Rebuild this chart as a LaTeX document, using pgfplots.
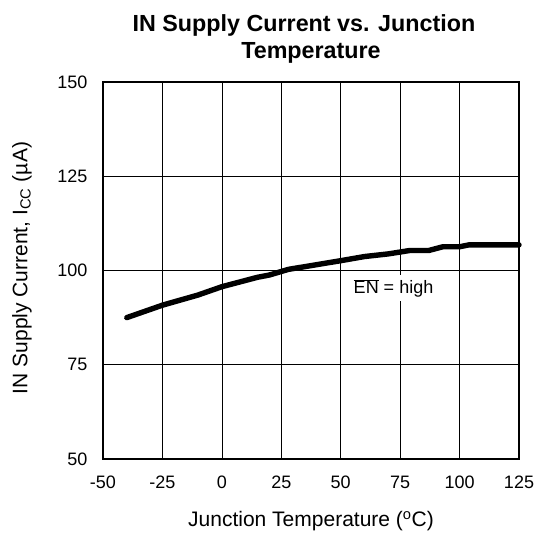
\documentclass[border=0pt]{standalone}
\usepackage{fontspec}
\setmainfont{Liberation Sans}
\usepackage{pgfplots}
\pgfplotsset{compat=1.18}
\begin{document}
\begin{tikzpicture}[x=1pt,y=1pt]
\path[use as bounding box] (0,0) rectangle (534,534);
\begin{axis}[
  at={(103pt,75pt)}, anchor=south west,
  width=416pt, height=377pt, scale only axis,
  xmin=-50, xmax=125, ymin=50, ymax=150,
  xtick={-50,-25,...,125}, ytick={50,75,...,150},
  grid=major, major grid style={black, line width=0.6pt},
  axis line style={black, line width=1.4pt},
  major tick length=0pt,
  /pgf/number format/assume math mode=true,
  ticklabel style={font=\fontsize{18}{20}\selectfont},
  xticklabel style={yshift=-13pt, text height=13pt, text depth=0pt},
  yticklabel style={xshift=-12pt},
  clip=false,
]
\addplot[black, line width=5.4pt, line join=round, line cap=round] coordinates {
(-40,87.5) (-25,90.8) (-10,93.5) (0,95.7) (15,98.2) (20,98.8) (28,100.3)
(50,102.6) (60,103.7) (70,104.4) (79,105.3) (87,105.3) (93,106.3)
(100,106.3) (104,106.8) (125,106.8)
};
\node[fill=white, inner xsep=2pt, inner ysep=4pt, font=\fontsize{18}{20}\selectfont] at (axis cs:69.9,95.3) {\hspace{11pt}$\overline{\mbox{EN}}$ = high};
\end{axis}
\node[font=\bfseries\fontsize{23.3}{26}\selectfont] at (304,509) {IN Supply Current vs. Junction};
\node[font=\bfseries\fontsize{23.3}{26}\selectfont] at (311,481) {Temperature};
\node[rotate=90, font=\fontsize{21}{23}\selectfont] at (22,266) {IN Supply Current, I\textsubscript{CC} (µA)};
\node[font=\fontsize{21}{23}\selectfont] at (311,13) {Junction Temperature (\textsuperscript{o}C)};
\end{tikzpicture}
\end{document}
